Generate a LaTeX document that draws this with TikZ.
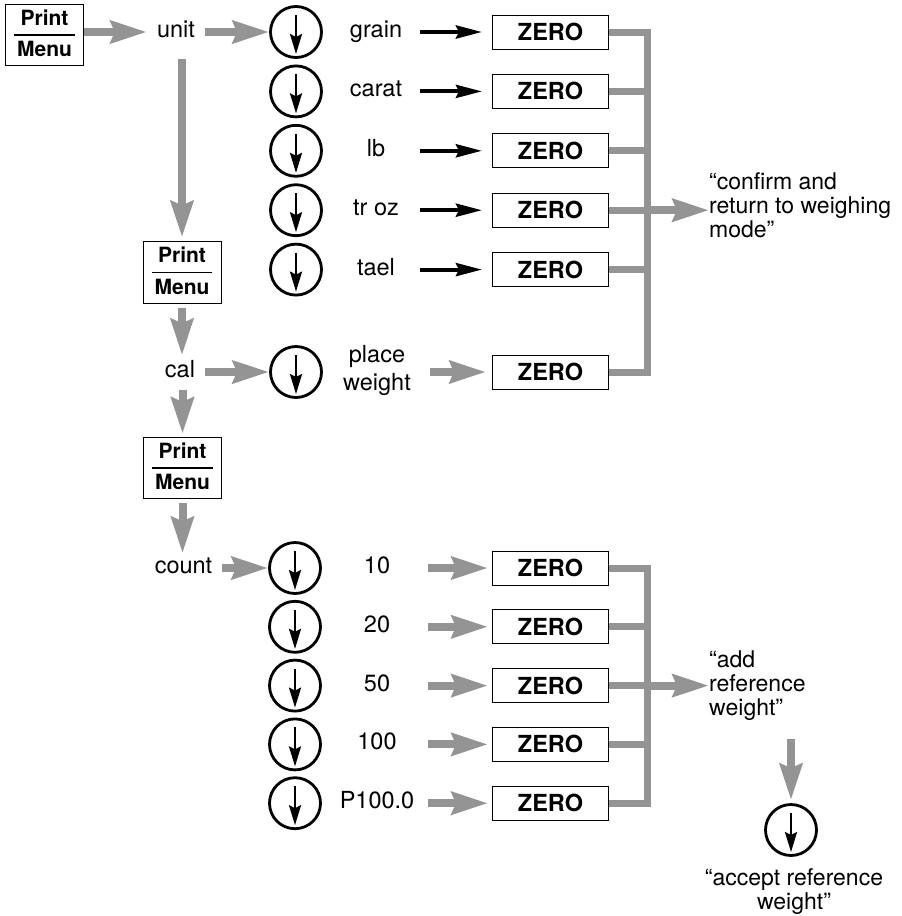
\documentclass[tikz,border=0pt]{standalone}
\usepackage{fontspec}
\setmainfont{TeX Gyre Heros}
\usetikzlibrary{arrows.meta}

\definecolor{flowgray}{RGB}{148,148,148}

\newcommand{\printmenu}{{\setlength{\arrayrulewidth}{1.2pt}\begin{tabular}{@{\hspace{3pt}}c@{\hspace{3pt}}}Print\\\hline Menu\end{tabular}}}

\begin{document}
\begin{tikzpicture}[
	x=1pt, y=-1pt,
	lbl/.style={ font=\fontsize{23.5}{24}\selectfont, text height=16pt, text depth=5pt, inner xsep=10pt, inner ysep=2pt },
	rowlbl/.style={ lbl, inner xsep=0pt, minimum width=88pt },
	cntlbl/.style={ lbl, inner xsep=0pt, minimum width=102pt },
	note/.style={ font=\fontsize{23}{24}\selectfont, align=left, inner sep=0pt, anchor=west },
	pmbox/.style={ draw, line width=1pt, font=\fontsize{21}{30}\selectfont\bfseries, inner sep=0pt, minimum width=78pt, minimum height=61pt },
	zerobox/.style={ draw, line width=1pt, font=\fontsize{23.5}{24}\selectfont\bfseries, minimum width=116pt, minimum height=34pt },
	knob/.style={ circle, draw, line width=2.8pt, inner sep=0pt, minimum size=51pt,
		path picture={\draw[line width=2.4pt, -{Stealth[length=20pt, width=12pt, inset=3pt]}] ([yshift=17pt]path picture bounding box.center) -- ([yshift=-22pt]path picture bounding box.center);} },
	garrow/.style={ draw=flowgray, line width=8pt, -{Stealth[length=36pt, width=22pt, inset=4pt]} },
	barrow/.style={ draw=black, line width=4pt, -{Stealth[length=26pt, width=13pt, inset=3pt]}, shorten >=10pt },
	bar/.style={ draw=flowgray, line width=7pt }
]
\useasboundingbox (0,0) rectangle (902,916);

\node at (44.5,35) (pm1) [pmbox] {\printmenu};
\node at (176,32) (unit) [lbl] {unit};
\node at (182,272.5) (pm2) [pmbox] {\printmenu};
\node at (180,372) (cal) [lbl] {cal};
\node at (182.5,468) (pm3) [pmbox] {\printmenu};
\node at (183.5,568) (count) [lbl] {count};

\draw[garrow] (pm1.east |- unit) -- (unit.west);
\draw[garrow, shorten <=14pt, shorten >=4pt] (pm2.north |- unit.south) -- (pm2.north);
\draw[garrow, shorten <=4pt, shorten >=4pt] (pm2.south) -- (pm2.south |- cal.north);
\draw[garrow, shorten <=5pt, shorten >=3pt] (pm3.north |- cal.south) -- (pm3.north);
\draw[garrow, shorten <=4pt, shorten >=2pt] (pm3.south) -- (pm3.south |- count.north);

% units
\foreach \i/\y/\t in {1/32/grain, 2/91.4/carat, 3/150.8/lb, 4/210.2/tr oz, 5/269.6/tael} {
	\node at (296,\y) (k\i) [knob] {};
	\node at (376,\y) (u\i) [rowlbl] {\t};
	\node at (550.5,\y) (z\i) [zerobox] {ZERO};
	\draw[barrow] (u\i) -- (z\i);
}
\draw[garrow] (unit) -- (k1);

% calibration
\node at (296,372) (k6) [knob] {};
\node at (377,370) (place) [font=\fontsize{23.5}{28}\selectfont, align=center, inner sep=0pt, minimum width=106pt] {place\\weight};
\node at (550.5,372) (z6) [zerobox] {ZERO};
\draw[garrow] (cal) -- (k6);
\draw[garrow, shorten >=6pt] (place.east |- z6) -- (z6.west);

\coordinate (bar1) at (647,372);
\draw[bar] (z1.east) -- (z1.east -| bar1) -- (bar1) -- (z6.east);
\foreach \i in {2,...,5} \draw[bar] (z\i.east) -- (z\i.east -| bar1);
\node at (709,205) (confirm) [note] {“confirm and\\return to weighing\\mode”};
\draw[garrow] (z4.east -| bar1) -- (z4.east -| confirm.west);

% count
\foreach \i/\y/\t in {7/568/10, 8/626.8/20, 9/685.6/50, 10/744.4/100, 11/803.2/P100.0} {
	\node at (295,\y) (k\i) [knob] {};
	\node at (377,\y) (c\i) [cntlbl] {\t};
	\node at (550.5,\y) (z\i) [zerobox] {ZERO};
	\draw[garrow, shorten >=4pt] (c\i) -- (z\i);
}
\draw[garrow] (count) -- (k7);

\coordinate (bar2) at (647,803.2);
\draw[bar] (z7.east) -- (z7.east -| bar2) -- (bar2) -- (z11.east);
\foreach \i in {8,9,10} \draw[bar] (z\i.east) -- (z\i.east -| bar2);
\node at (709,686) (addref) [note] {“add\\reference\\weight”};
\draw[garrow] (z9.east -| bar2) -- (z9.east -| addref.west);

\node at (791,830) (k12) [knob] {};
\draw[garrow, shorten <=18pt, shorten >=3pt] (k12.north |- addref.south) -- (k12.north);
\node at (794,891.5) (accept) [font=\fontsize{23}{23.5}\selectfont, align=center, inner sep=0pt] {“accept reference\\weight”};

\end{tikzpicture}
\end{document}
